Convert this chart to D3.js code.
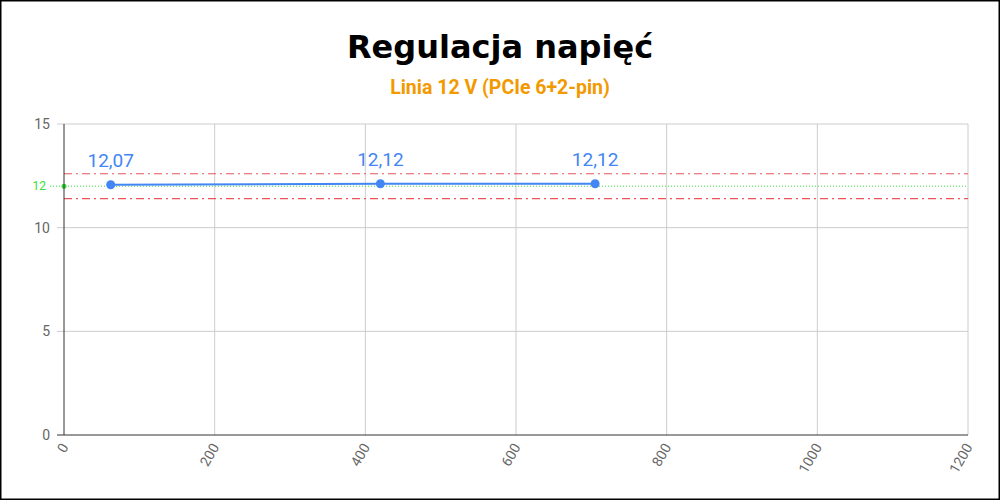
<!DOCTYPE html>
<html><head><meta charset="utf-8">
<script src="https://cdn.jsdelivr.net/npm/d3@7"></script>
<style>body{margin:0}svg{display:block;font-family:Roboto,sans-serif}</style>
</head><body><svg id="c" width="1000" height="500"></svg>
<script>
// data
const loads = [62, 420, 705];
const volts = [12.07, 12.12, 12.12];
const xTicks = [0, 200, 400, 600, 800, 1000, 1200];
const yTicks = [0, 5, 10, 15];
const nominal = 12;
const limits = [12.6, 11.4];

const svg = d3.select('#c');
svg.append('rect').attr('x', 0.5).attr('y', 0.5).attr('width', 999).attr('height', 499)
  .attr('fill', '#fff').attr('stroke', '#000').attr('stroke-width', 2);

const x = d3.scaleLinear().domain([0, 1200]).range([64, 968]);
const y = d3.scaleLinear().domain([0, 15]).range([435, 124]);

svg.append('text').attr('x', 500).attr('y', 58).attr('text-anchor', 'middle')
  .attr('font-size', 32).attr('font-weight', 900).attr('font-family', '"DejaVu Sans",sans-serif')
  .attr('fill', '#000').text('Regulacja napięć');
svg.append('text').attr('x', 500).attr('y', 94).attr('text-anchor', 'middle')
  .attr('font-size', 19.5).attr('font-weight', 'bold').attr('fill', '#f29900').text('Linia 12 V (PCIe 6+2-pin)');

// grid
svg.append('g').selectAll('line').data(yTicks.filter(d => d > 0)).join('line')
  .attr('x1', 57).attr('x2', 968).attr('y1', d => y(d)).attr('y2', d => y(d)).attr('stroke', '#ccc');
svg.append('g').selectAll('line').data(xTicks.filter(d => d > 0)).join('line')
  .attr('x1', d => x(d)).attr('x2', d => x(d)).attr('y1', 124).attr('y2', 435).attr('stroke', '#ccc');
svg.append('g').selectAll('text').data(yTicks).join('text')
  .attr('x', 50).attr('y', d => y(d) + 5).attr('text-anchor', 'end')
  .attr('font-size', 14).attr('fill', '#666').text(d => d);
svg.append('g').selectAll('text').data(xTicks).join('text')
  .attr('transform', d => `translate(${x(d) + 5},${447}) rotate(-60)`)
  .attr('text-anchor', 'end').attr('font-size', 14).attr('fill', '#666').text(d => d);

// limits
svg.append('g').selectAll('line').data(limits).join('line')
  .attr('x1', 64).attr('x2', 968).attr('y1', d => y(d)).attr('y2', d => y(d))
  .attr('stroke', '#e8545a').attr('stroke-width', 1.2).attr('stroke-dasharray', '8,4,2,4');
svg.append('line').attr('x1', 50).attr('x2', 968).attr('y1', y(nominal)).attr('y2', y(nominal))
  .attr('stroke', '#33dd33').attr('stroke-dasharray', '1,2');
svg.append('circle').attr('cx', 64).attr('cy', y(nominal)).attr('r', 2.5).attr('fill', '#33dd33');
svg.append('text').attr('x', 46).attr('y', y(nominal) + 4).attr('text-anchor', 'end')
  .attr('font-size', 12).attr('fill', '#33dd33').text(nominal);

// axes
svg.append('line').attr('x1', 64).attr('x2', 64).attr('y1', 124).attr('y2', 435).attr('stroke', '#333');
svg.append('line').attr('x1', 57).attr('x2', 968).attr('y1', 435).attr('y2', 435).attr('stroke', '#333');

// series
const pts = loads.map((l, i) => [l, volts[i]]);
svg.append('path').attr('d', d3.line().x(d => x(d[0])).y(d => y(d[1]))(pts))
  .attr('fill', 'none').attr('stroke', '#4285f4').attr('stroke-width', 2);
svg.append('g').selectAll('circle').data(pts).join('circle')
  .attr('cx', d => x(d[0])).attr('cy', d => y(d[1])).attr('r', 4.5).attr('fill', '#4285f4');
svg.append('g').selectAll('text').data(pts).join('text')
  .attr('x', d => x(d[0])).attr('y', d => y(d[1]) - 18).attr('text-anchor', 'middle')
  .attr('font-size', 19).attr('fill', '#4285f4').text(d => d[1].toFixed(2).replace('.', ','));
</script></body></html>
